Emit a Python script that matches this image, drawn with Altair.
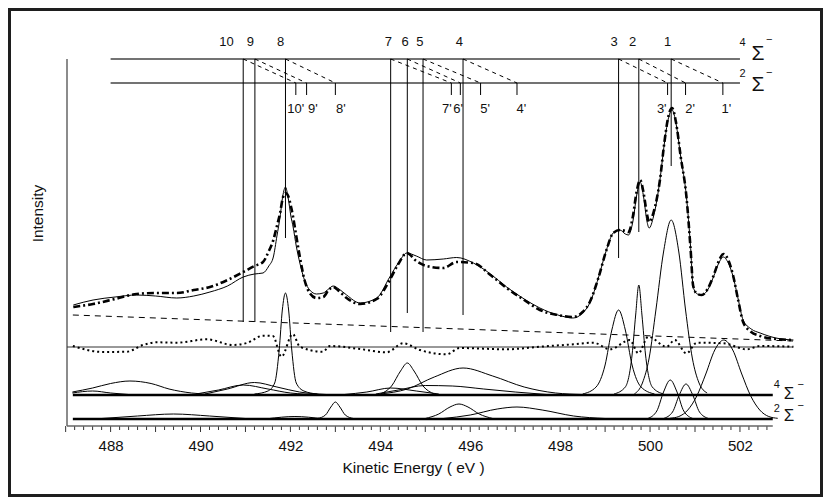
import altair as alt
import pandas as pd

# ---------------- annotation data (energies in eV, intensity in arb. units) ----------------
lev_names = ["1", "2", "3", "4", "5", "6", "7", "8", "9", "10"]
lev_e = [500.47, 499.75, 499.30, 495.84, 494.95, 494.60, 494.23, 491.89, 491.21, 490.95]
lev_label_e = [500.39, 499.61, 499.20, 495.76, 494.88, 494.55, 494.18, 491.78, 491.11, 490.58]
lev_line_end = [260, 194, 168, 111, 94, 113, 94, 188, 104, 104]

pr_names = ["1'", "2'", "3'", "4'", "5'", "6'", "7'", "8'", "9'", "10'"]
pr_e = [501.62, 500.79, 500.39, 497.04, 496.23, 495.78, 495.58, 493.00, 492.36, 492.12]
pr_label_e = [501.70, 500.89, 500.26, 497.14, 496.33, 495.73, 495.48, 493.12, 492.50, 492.12]

# ---------------- spectrum: fit (solid) and experiment (dash-dot) ----------------
spec_e = [487.17, 487.61, 488.10, 488.58, 489.00, 489.47, 489.85, 490.21, 490.60, 490.95,
          491.20, 491.39, 491.52, 491.62, 491.70, 491.77, 491.83, 491.89, 491.95, 492.01,
          492.06, 492.13, 492.21, 492.32, 492.43, 492.58, 492.73, 492.85, 492.95, 493.08,
          493.25, 493.55, 493.92, 494.21, 494.40, 494.59, 494.80, 495.03, 495.40, 495.70,
          496.07, 496.45, 496.81, 497.20, 497.55, 497.95, 498.29, 498.50, 498.66, 498.85,
          499.03, 499.18, 499.33, 499.45, 499.52, 499.62, 499.70, 499.78, 499.86, 499.93,
          499.98, 500.08, 500.22, 500.32, 500.40, 500.49, 500.58, 500.68, 500.81, 500.90,
          500.96, 501.05, 501.15, 501.28, 501.41, 501.53, 501.63, 501.74, 501.85, 501.96,
          502.07, 502.25, 502.45, 502.80, 503.19]
fit_v = [121, 126, 129, 131, 130, 128, 130, 134, 140, 149,
         152, 153, 160, 169, 190, 209, 230, 239, 228, 210,
         199, 180, 163, 145, 136, 132, 133, 137, 140, 137,
         131, 123, 128, 149, 163, 173, 170, 166, 167, 168.5,
         163, 152, 139, 127, 118, 111, 108, 113, 123, 148,
         176, 193, 196, 192, 191, 205, 230, 244, 228, 205,
         198, 210, 246, 283, 306, 316, 302, 270, 229, 180,
         139, 132, 131, 136, 149, 163, 169, 163, 149, 127,
         106, 97, 93, 88, 86]
exp_v = [119, 122, 127, 132, 133, 133, 136, 139, 146, 154,
         160, 164, 175, 186, 200, 213, 228, 233, 230, 220,
         209, 190, 169, 145, 133, 128, 129, 136, 139, 135,
         128, 122, 127, 146, 162, 173, 165, 160, 158, 164,
         163, 151, 138, 126, 116, 111, 109, 114, 124, 148,
         176, 193, 196, 195, 194, 210, 234, 246, 232, 212,
         204, 214, 246, 284, 308, 318, 303, 270, 229, 178,
         140, 132, 131, 137, 150, 165, 172, 166, 150, 126,
         104, 94, 90, 87, 86]

# residual (dotted) around its zero line
res_e = [487.16, 487.83, 488.36, 488.72, 489.03, 489.47, 490.14, 490.72, 491.03, 491.39,
         491.61, 491.80, 492.05, 492.21, 492.72, 492.88, 493.55, 494.14, 494.51, 494.88,
         495.47, 495.77, 496.81, 497.55, 498.29, 498.74, 499.11, 499.55, 499.74, 499.96,
         500.37, 500.55, 500.81, 501.04, 501.63, 502.15, 502.45, 503.19]
res_v = [80, 74, 74.3, 81, 83.7, 83.3, 86.7, 81, 83, 90.3,
         90, 69.3, 92, 79.3, 74.3, 80, 77, 73.7, 82.7, 76,
         71.7, 78, 76.7, 79.3, 81.7, 83.3, 76.7, 86, 72.7, 89.3,
         79.3, 86, 72.7, 83.3, 82.7, 76.7, 80, 79.3]
res_zero = 79

# linear background (dashed)
bg_e = [487.16, 503.18]
bg_v = [111, 85]

# ---------------- fitted components, heights above their baselines ----------------
base4, base2 = 31, 7
comp4 = {
    "a": ([487.15, 487.6, 488.0, 488.43, 488.9, 489.3, 489.8, 490.3], [3, 7, 11.5, 14, 11.5, 6, 2, 0.5]),
    "b": ([487.15, 487.6, 488.0, 488.4], [2, 4, 2, 0.5]),
    "c": ([489.9, 490.4, 490.95, 491.5, 492.0, 492.6], [1, 5, 10, 6, 2, 0.5]),
    "d": ([490.1, 490.6, 491.2, 491.7, 492.2, 492.8], [1, 6, 12.5, 8, 3, 0.5]),
    "e8": ([491.2, 491.5, 491.65, 491.75, 491.82, 491.89, 491.96, 492.03, 492.13, 492.3, 492.6],
           [1, 4, 12, 45, 85, 102, 85, 45, 12, 4, 1]),
    "f7": ([493.2, 493.7, 494.23, 494.8, 495.3], [0.5, 3, 7, 4, 1]),
    "g6": ([494.0, 494.25, 494.45, 494.6, 494.75, 494.95, 495.2], [1, 9, 24, 32, 24, 9, 1]),
    "h5": ([493.9, 494.4, 495.0, 495.6, 496.3, 497.0, 497.7], [1, 5, 9.5, 9, 6, 3, 0.5]),
    "i4": ([494.0, 494.6, 495.2, 495.84, 496.5, 497.2, 497.9, 498.5], [1, 6, 18, 27, 19, 8, 2, 0.5]),
    "j3": ([498.5, 498.8, 499.0, 499.15, 499.3, 499.45, 499.6, 499.8, 500.1], [1, 8, 30, 65, 85, 65, 30, 8, 1]),
    "k2": ([499.2, 499.45, 499.6, 499.68, 499.75, 499.82, 499.9, 500.05, 500.3], [1, 8, 40, 80, 110, 80, 40, 8, 1]),
    "l1": ([499.65, 499.83, 499.98, 500.13, 500.3, 500.47, 500.64, 500.79, 500.94, 501.09, 501.27],
           [1, 12, 37, 85, 143, 175, 143, 85, 37, 12, 2]),
}
comp2 = {
    "m": ([487.8, 488.6, 489.4, 490.2, 491.0], [0.5, 3, 5, 3, 0.5]),
    "n": ([491.5, 492.1, 492.7], [0.3, 2.5, 0.3]),
    "o8": ([492.6, 492.78, 492.9, 493.0, 493.1, 493.22, 493.4], [0.5, 4, 12, 17, 12, 4, 0.5]),
    "p7": ([495.0, 495.3, 495.55, 495.75, 495.95, 496.2, 496.5], [0.5, 5, 12, 15, 12, 5, 0.5]),
    "q4": ([495.4, 496.0, 496.6, 497.04, 497.6, 498.3, 499.0], [0.5, 4, 10, 12, 9, 3, 0.5]),
    "r3": ([499.95, 500.15, 500.3, 500.45, 500.6, 500.75, 500.95], [0.5, 8, 27, 39, 27, 8, 0.5]),
    "s2": ([500.3, 500.5, 500.65, 500.8, 500.95, 501.1, 501.3], [0.5, 7, 24, 35, 24, 7, 0.5]),
    "t1": ([500.44, 500.64, 500.84, 501.04, 501.24, 501.44, 501.64, 501.84, 502.04, 502.24, 502.44, 502.64, 502.84],
           [0.7, 2.5, 9, 23, 45, 69, 79, 69, 45, 23, 9, 2.5, 0.7]),
}

x_labels = [488, 490, 492, 494, 496, 498, 500, 502]

# ---------------- layout constants ----------------
W, H = 726, 367
XD = [487.03, 503.18]
YD = [0, 367]
LV4, LV2 = 367, 343          # level rows
LAB_V, PLAB_V = 384, 317     # label rows
FONT = "Liberation Sans"

xs = alt.Scale(domain=XD, nice=False, zero=False)
ys = alt.Scale(domain=YD, nice=False, zero=False)

AX = alt.Axis(values=x_labels, format="d", ticks=False, tickSize=0, domain=False, grid=False,
              labelFont=FONT, labelFontSize=15, labelColor="#111", labelBaseline="middle",
              labelPadding=19, titleFont=FONT, titleFontSize=15.5, titleFontWeight="normal",
              titleColor="#111", titleX=346, titleY=41, titleBaseline="middle")
AY = alt.Axis(labels=False, ticks=False, domain=False, grid=False, titleFont=FONT,
              titleFontSize=15.5, titleFontWeight="normal", titleColor="#111",
              titleX=-30, titleY=154, titleBaseline="middle", titleAngle=-90)
XT = "Kinetic Energy ( eV )"
YT = "Intensity"


def X(f="e"):
    return alt.X(f"{f}:Q", scale=xs, axis=AX, title=XT)


def Y(f="v"):
    return alt.Y(f"{f}:Q", scale=ys, axis=AY, title=YT)


# ---------------- build frames ----------------
spec_df = pd.DataFrame({"e": spec_e, "fit": fit_v, "exp": exp_v})
res_df = pd.DataFrame({"e": res_e, "v": res_v})
bg_df = pd.DataFrame({"e": bg_e, "v": bg_v})

rows = []
for name, (es, hs) in comp4.items():
    for e, h in zip(es, hs):
        rows.append({"comp": "4" + name, "e": e, "v": base4 + h})
for name, (es, hs) in comp2.items():
    for e, h in zip(es, hs):
        rows.append({"comp": "2" + name, "e": e, "v": base2 + h})
comp_df = pd.DataFrame(rows)

lev_df = pd.DataFrame({"name": lev_names, "e": lev_e, "le": lev_label_e, "end": lev_line_end,
                       "pe": pr_e, "top": LV4, "lv2": LV2})
pr_df = pd.DataFrame({"name": pr_names, "e": pr_e, "le": pr_label_e, "top": LV2, "bot": LV2 - 12})

frame = alt.Chart(pd.DataFrame({"e": [XD[0]], "v": [0]})).mark_rect(
    fillOpacity=0, stroke="#1e1e1e", strokeWidth=3).encode(
    x=alt.value(-57.5), x2=alt.value(754.5), y=alt.value(-49.5), y2=alt.value(436.5))

axis_layer = alt.Chart(pd.DataFrame({"e": [XD[0]], "v": [0]})).mark_point(opacity=0).encode(x=X(), y=Y())

ticks_minor = [round(487.0 + 0.2 * i, 1) for i in range(79)]
tick_df = pd.DataFrame({"e": ticks_minor, "v": 0})
tick_df["major"] = (tick_df["e"] * 10).round().astype(int) % 10 == 0
minor = alt.Chart(tick_df[~tick_df["major"]]).mark_rule(color="#333", strokeWidth=1).encode(
    x=X(), y=alt.value(H), y2=alt.value(H + 4))
major = alt.Chart(tick_df[tick_df["major"]]).mark_rule(color="#333", strokeWidth=1).encode(
    x=X(), y=alt.value(H), y2=alt.value(H + 6))

axlines = alt.Chart(pd.DataFrame({"e": [487.03, 487.03], "e2": [487.03, 502.73], "v": [0, 0], "v2": [367, 0]})
                    ).mark_rule(color="#666", strokeWidth=1.5).encode(x=X(), x2="e2:Q", y=Y(), y2="v2:Q")

levels = alt.Chart(pd.DataFrame({"e": [488, 488], "e2": [502, 502], "v": [LV4, LV2]})
                   ).mark_rule(color="#444", strokeWidth=1.5).encode(x=X(), x2="e2:Q", y=Y())

vlines = alt.Chart(lev_df).mark_rule(color="#000", strokeWidth=1).encode(x=X(), y=Y("top"), y2="end:Q")
pticks = alt.Chart(pr_df).mark_rule(color="#000", strokeWidth=1).encode(x=X(), y=Y("top"), y2="bot:Q")
connectors = alt.Chart(lev_df).mark_rule(color="#000", strokeWidth=1, strokeDash=[4, 4]).encode(
    x=X(), x2="pe:Q", y=Y("top"), y2="lv2:Q")

bg = alt.Chart(bg_df).mark_line(color="#000", strokeWidth=1, strokeDash=[6, 5]).encode(x=X(), y=Y())
zero = alt.Chart(pd.DataFrame({"e": [487.03], "e2": [503.18], "v": [res_zero]})).mark_rule(
    color="#333", strokeWidth=1).encode(x=X(), x2="e2:Q", y=Y())
res = alt.Chart(res_df).mark_line(color="#000", strokeWidth=2, strokeDash=[2, 3], interpolate="monotone").encode(
    x=X(), y=Y())
bases = alt.Chart(pd.DataFrame({"e": [487.16, 487.16], "e2": [502.73, 502.73], "v": [base4, base2]})).mark_rule(
    color="#000", strokeWidth=2.5).encode(x=X(), x2="e2:Q", y=Y())
comps = alt.Chart(comp_df).mark_line(color="#000", strokeWidth=1, interpolate="monotone").encode(
    x=X(), y=Y(), detail="comp:N")
fit = alt.Chart(spec_df).mark_line(color="#000", strokeWidth=1, interpolate="monotone").encode(
    x=X(), y=Y("fit"))
exp = alt.Chart(spec_df).mark_line(color="#000", strokeWidth=2.6, strokeDash=[7, 3, 2, 3],
                                   interpolate="monotone").encode(x=X(), y=Y("exp"))

lev_text = alt.Chart(lev_df.assign(lv=LAB_V)).mark_text(font=FONT, fontSize=13, color="#111").encode(
    x=X("le"), y=Y("lv"), text="name:N")
pr_text = alt.Chart(pr_df.assign(lv=PLAB_V)).mark_text(font=FONT, fontSize=13, color="#111").encode(
    x=X("le"), y=Y("lv"), text="name:N")

sig_df = pd.DataFrame({"e": [502.40, 502.40, 503.09, 503.09], "v": [372, 341, 32, 10]})
sup_df = pd.DataFrame({"e": [502.06, 502.65, 502.06, 502.65, 502.82, 503.35, 502.82, 503.35],
                       "v": [383, 386, 352, 353, 41, 41, 17, 20],
                       "t": ["4", "\u2212", "2", "\u2212", "4", "\u2212", "2", "\u2212"]})
sig_big = alt.Chart(sig_df.iloc[:2]).mark_text(font=FONT, fontSize=21, color="#111", text="\u03a3").encode(
    x=X(), y=Y())
sig_small = alt.Chart(sig_df.iloc[2:]).mark_text(font=FONT, fontSize=17, color="#111", text="\u03a3").encode(
    x=X(), y=Y())
sups = alt.Chart(sup_df).mark_text(font=FONT, fontSize=11, color="#111").encode(x=X(), y=Y(), text="t:N")

chart = alt.layer(
    axis_layer, frame, minor, major, axlines, levels, vlines, pticks, connectors,
    bg, zero, res, bases, comps, fit, exp, lev_text, pr_text, sig_big, sig_small, sups,
).properties(
    width=W, height=H,
    autosize=alt.AutoSizeParams(type="none"),
    padding={"left": 59, "top": 51, "right": 30, "bottom": 72},
).configure_view(stroke=None)

chart.save("out.html", embed_options={"renderer": "svg", "actions": False})
